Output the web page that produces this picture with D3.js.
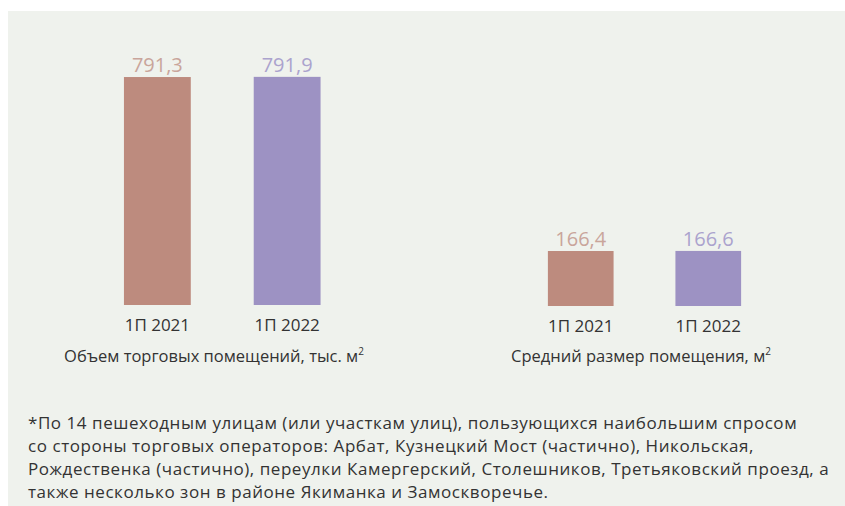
<!DOCTYPE html>
<html>
<head>
<meta charset="utf-8">
<script src="https://cdn.jsdelivr.net/npm/d3@7"></script>
<style>
  html, body { margin: 0; padding: 0; background: #ffffff; }
  svg { display: block; }
  text { font-family: "Open Sans", "Noto Sans", sans-serif; }
</style>
</head>
<body>
<svg id="chart" width="845" height="506"></svg>
<script>
// Periods shown in both panels
const periods = ["1П 2021", "1П 2022"];

// Panel 1: total retail space, thousand m²
const volumeValues = [791.3, 791.9];
const volumeTitle = "Объем торговых помещений, тыс. м";

// Panel 2: average premises size, m²
const avgSizeValues = [166.4, 166.6];
const avgSizeTitle = "Средний размер помещения, м";

// Footnote lines
const footnoteLines = [
  "*По 14 пешеходным улицам (или участкам улиц), пользующихся наибольшим спросом",
  "со стороны торговых операторов: Арбат, Кузнецкий Мост (частично), Никольская,",
  "Рождественка (частично), переулки Камергерский, Столешников, Третьяковский проезд, а",
  "также несколько зон в районе Якиманка и Замоскворечье."
];

const barColors = ["#bd8b7e", "#9d92c3"];
const labelColors = ["#c9a59b", "#aba3cd"];
const textColor = "#333333";

const svg = d3.select("#chart");

// Light panel behind the chart
svg.append("rect")
  .attr("x", 8).attr("y", 11)
  .attr("width", 845 - 8).attr("height", 506 - 11)
  .attr("fill", "#eff2ed");

const fmt = v => d3.format(".1f")(v).replace(".", ",");

function drawPanel(values, title, xRange, yDomain, yRange, titleX) {
  const x = d3.scaleBand()
    .domain(periods)
    .range(xRange)
    .paddingInner(0.485)
    .paddingOuter(0.25);
  const y = d3.scaleLinear().domain(yDomain).range(yRange);

  const g = svg.append("g");
  const data = periods.map((p, i) => ({ p, v: values[i], i }));

  g.selectAll("rect.bar").data(data).join("rect")
    .attr("class", "bar")
    .attr("x", d => x(d.p))
    .attr("width", x.bandwidth())
    .attr("y", d => y(d.v))
    .attr("height", d => y(0) - y(d.v))
    .attr("fill", d => barColors[d.i]);

  g.selectAll("text.val").data(data).join("text")
    .attr("class", "val")
    .attr("x", d => x(d.p) + x.bandwidth() / 2)
    .attr("y", d => y(d.v) - 5)
    .attr("text-anchor", "middle")
    .attr("font-size", 20)
    .attr("fill", d => labelColors[d.i])
    .text(d => fmt(d.v));

  // Category axis labels
  const axis = d3.axisBottom(x).tickSize(0).tickPadding(0);
  const ax = g.append("g")
    .attr("transform", `translate(0,${y(0) + 26})`)
    .call(axis);
  ax.select(".domain").remove();
  ax.selectAll("text")
    .attr("dy", 0)
    .attr("font-size", 17)
    .attr("font-family", "'Open Sans', sans-serif")
    .attr("fill", textColor);

  const t = g.append("text")
    .attr("x", titleX)
    .attr("y", 362)
    .attr("text-anchor", "middle")
    .attr("font-size", 16.5)
    .attr("fill", textColor);
  t.append("tspan").text(title);
  t.append("tspan").attr("font-size", 10).attr("dy", -7).text("2");
}

drawPanel(volumeValues, volumeTitle, [91.5, 353], [0, 800], [305, 305 - 800 * 0.2881], 214);
drawPanel(avgSizeValues, avgSizeTitle, [516, 773], [0, 200], [306, 306 - 200 * 0.3305], 641);

// Footnote
svg.append("g").selectAll("text").data(footnoteLines).join("text")
  .attr("x", 28)
  .attr("y", (d, i) => 429 + i * 23)
  .attr("font-size", 17)
  .attr("letter-spacing", 0.55)
  .attr("fill", textColor)
  .text(d => d);
</script>
</body>
</html>
